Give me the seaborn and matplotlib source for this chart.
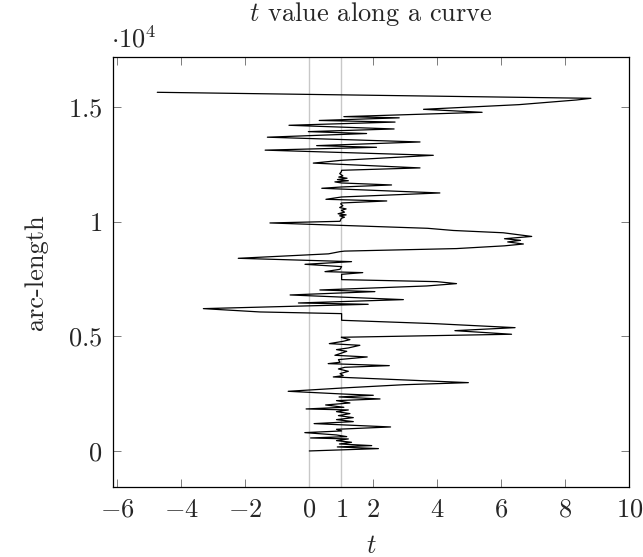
import matplotlib
matplotlib.use("Agg")
import matplotlib.pyplot as plt
import seaborn as sns

# arc-length along the curve (y) and the t value at that point (x)
arc_length = [0, 102, 175, 233, 305, 378, 451, 524, 567, 625, 698, 800, 873, 945, 1047, 1193,
              1280, 1367, 1454, 1542, 1629, 1716, 1789, 1833, 1905, 2007, 2094, 2196, 2269, 2356,
              2429, 2487, 2603, 2749, 2890, 2981, 3229, 3287, 3374, 3476, 3578, 3650, 3723, 3810,
              3869, 3985, 4101, 4174, 4247, 4348, 4421, 4494, 4610, 4683, 4785, 4857, 4930, 4960,
              5092, 5249, 5380, 5556, 5701, 5992, 6065, 6210, 6399, 6457, 6603, 6806, 6952, 7024,
              7199, 7301, 7388, 7475, 7708, 7781, 7824, 7926, 8043, 8144, 8260, 8406, 8600, 8697,
              8720, 8830, 8950, 9030, 9120, 9190, 9260, 9360, 9520, 9550, 9620, 9715, 9840, 9948,
              10020, 10150, 10200, 10260, 10300, 10350, 10420, 10500, 10560, 10620, 10700, 10780,
              10820, 10908, 10980, 11082, 11257, 11461, 11518, 11606, 11693, 11740, 11790, 11840,
              11900, 11950, 12000, 12100, 12180, 12246, 12350, 12560, 12682, 12900, 13125, 13249,
              13322, 13482, 13690, 13850, 13933, 14049, 14210, 14350, 14420, 14535, 14587, 14776,
              14907, 15110, 15314, 15387, 15649]
t_value = [0, 2.16, 0.875, 1.95, 0.94, 1.32, 0.85, 1.22, 0.04, 1.17, 0.85, -0.14, 1.01, 0.85, 2.54,
           0.15, 1.375, 0.85, 1.375, 0.91, 1.27, 0.85, 1.22, -0.10, 1.08, 0.51, 1.27, 0.85, 2.21,
           0.93, 2.0, 1.01, -0.66, 1.06, 2.95, 4.97, 0.75, 1.06, 0.96, 1.22, 0.91, 1.11, 2.5, 0.59,
           0.96, 0.91, 1.81, 0.80, 0.96, 1.17, 0.85, 1.22, 1.58, 0.625, 1.06, 1.27, 1.06, 1.0,
           6.32, 4.55, 6.43, 3.9, 1.01, 1.01, -1.54, -3.31, 1.84, -0.34, 2.94, -0.6, 2.05, 0.33,
           3.67, 4.6, 3.98, 1.01, 1.01, 1.67, 0.49, 0.96, 1.01, -0.135, 1.32, -2.22, 0.6, 0.96,
           1.1, 4.6, 6.1, 6.69, 6.2, 6.6, 6.1, 6.95, 6.06, 5.6, 4.5, 3.7, 1.0, -1.23,
           0.96, 1.0, 1.1, 0.95, 1.15, 0.9, 1.1, 1.0, 1.15, 0.95, 1.05, 0.98,
           1.01, 2.42, 0.52, 1.01, 4.08, 0.39, 1.01, 2.57, 1.01, 0.8, 1.22, 0.88,
           1.18, 0.92, 1.05, 0.95, 1.0, 1.01, 3.46, 0.125, 1.01, 3.875, -1.38, 2.1,
           0.23, 3.46, -1.31, 1.79, -0.03, 2.65, -0.635, 2.68, 0.31, 2.81, 1.08, 5.40,
           3.57, 6.55, 8.35, 8.8, -4.75]

x_ticks = [-6, -4, -2, 0, 1, 2, 4, 6, 8, 10]
y_ticks = [0, 5000, 10000, 15000]
y_tick_labels = ["0", "0.5", "1", "1.5"]
ref_lines = [0, 1]

sns.set_style("ticks")
plt.rcParams["font.family"] = "serif"
plt.rcParams["font.serif"] = ["cmr10"]
plt.rcParams["mathtext.fontset"] = "cm"
plt.rcParams["axes.formatter.use_mathtext"] = True

fig = plt.figure(figsize=(6.43, 5.57), dpi=100)
ax = fig.add_axes([0.1762, 0.1262, 0.8025, 0.7715])

# grey guide lines at t = 0 and t = 1
for v in ref_lines:
    ax.axvline(v, color="#c8c8c8", lw=1.0, zorder=1)

sns.lineplot(x=t_value, y=arc_length, sort=False, estimator=None,
             color="black", lw=0.9, ax=ax, zorder=3)

ax.set_xlim(-6.125, 10)
ax.set_ylim(-1560, 17190)
ax.set_xticks(x_ticks)
ax.set_xticklabels([f"${v}$" for v in x_ticks])
ax.set_yticks(y_ticks)
ax.set_yticklabels([f"${s}$" for s in y_tick_labels])
ax.tick_params(direction="in", top=True, right=True, length=6, width=0.6,
               color="#666666", labelsize=19, pad=8)
for s in ax.spines.values():
    s.set_linewidth(0.9)
    s.set_color("black")

ax.set_title("$t$ value along a curve", fontsize=19, pad=26)
ax.set_xlabel("$t$", fontsize=19, labelpad=9)
ax.set_ylabel("arc-length", fontsize=19, labelpad=14)
ax.text(-0.005, 1.01, r"$\cdot 10^4$", transform=ax.transAxes, ha="left", va="bottom",
        fontsize=19)

fig.savefig("out.png", dpi=100)
